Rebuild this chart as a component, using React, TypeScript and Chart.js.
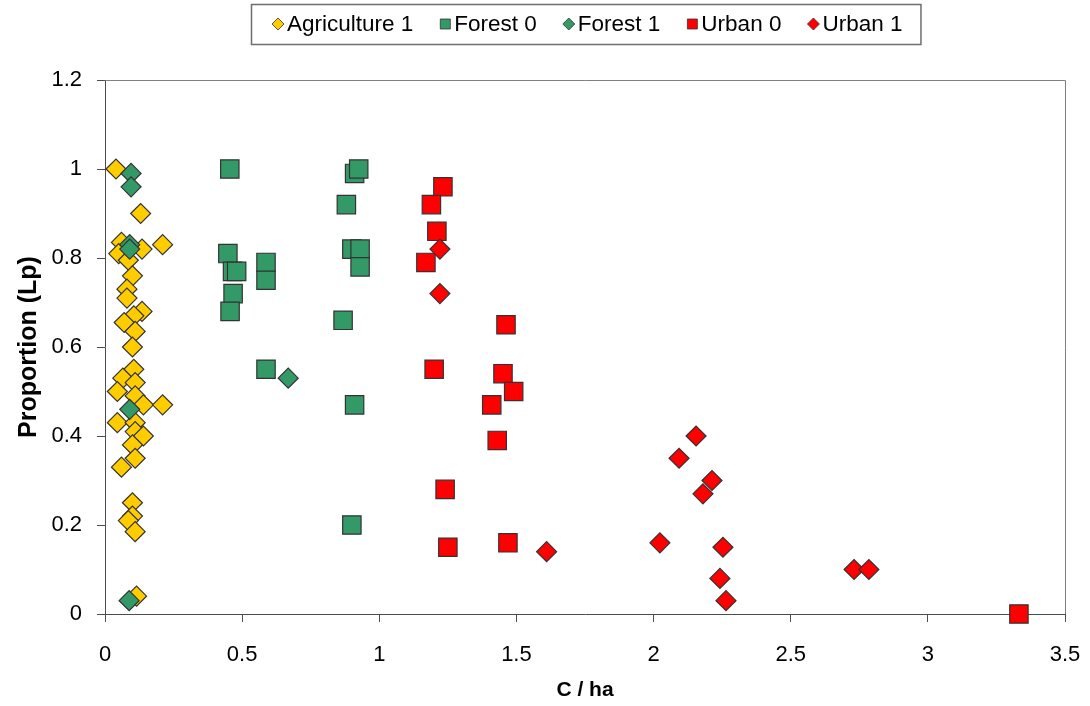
import React, { useEffect, useRef } from 'react';
import { Chart, registerables } from 'chart.js';

Chart.register(...registerables);

const FONT = '"Liberation Sans", Arial, Helvetica, sans-serif';

const seriesNames = ['Agriculture 1', 'Forest 0', 'Forest 1', 'Urban 0', 'Urban 1'];
const xTicks = [0, 0.5, 1, 1.5, 2, 2.5, 3, 3.5];
const yTicks = [0, 0.2, 0.4, 0.6, 0.8, 1, 1.2];

const agriculture1: number[][] = [
  [0.04, 1.0], [0.13, 0.9], [0.21, 0.83], [0.06, 0.835], [0.135, 0.82], [0.05, 0.81],
  [0.085, 0.795], [0.1, 0.76], [0.08, 0.73], [0.08, 0.71], [0.135, 0.68], [0.105, 0.67],
  [0.07, 0.655], [0.11, 0.635], [0.1, 0.6], [0.105, 0.55], [0.065, 0.53], [0.11, 0.52],
  [0.045, 0.5], [0.11, 0.49], [0.14, 0.47], [0.21, 0.47], [0.045, 0.43], [0.11, 0.43],
  [0.11, 0.41], [0.14, 0.4], [0.1, 0.38], [0.11, 0.35], [0.06, 0.33], [0.1, 0.25],
  [0.1, 0.22], [0.085, 0.21], [0.11, 0.185], [0.115, 0.04],
];

const forest0: number[][] = [
  [0.455, 1.0], [0.91, 0.99], [0.925, 1.0], [0.88, 0.92], [0.448, 0.81], [0.465, 0.77],
  [0.48, 0.77], [0.587, 0.79], [0.587, 0.75], [0.467, 0.72], [0.456, 0.68], [0.9, 0.82],
  [0.93, 0.82], [0.93, 0.78], [0.868, 0.66], [0.587, 0.55], [0.91, 0.47], [0.9, 0.2],
];

const forest1: number[][] = [
  [0.095, 0.99], [0.095, 0.96], [0.09, 0.83], [0.09, 0.82], [0.09, 0.46], [0.088, 0.03],
  [0.668, 0.53],
];

const urban0: number[][] = [
  [1.232, 0.96], [1.19, 0.92], [1.21, 0.86], [1.17, 0.79], [1.462, 0.65], [1.2, 0.55],
  [1.451, 0.54], [1.49, 0.5], [1.41, 0.47], [1.43, 0.39], [1.24, 0.28], [1.25, 0.15],
  [1.469, 0.16], [3.332, 0.0],
];

const urban1: number[][] = [
  [1.221, 0.82], [1.221, 0.72], [1.61, 0.14], [2.155, 0.4], [2.093, 0.35], [2.213, 0.3],
  [2.18, 0.27], [2.023, 0.16], [2.253, 0.15], [2.242, 0.08], [2.264, 0.03], [2.731, 0.1],
  [2.785, 0.1],
];

const seriesData = [agriculture1, forest0, forest1, urban0, urban1];
const seriesColors = ['#FFCC00', '#339966', '#339966', '#FF0000', '#FF0000'];
const seriesShapes = ['rectRot', 'rect', 'rectRot', 'rect', 'rectRot'];
const drawOrder = [5, 4, 3, 2, 1];

const MARKER_BORDER = '#333333';
const AXIS_COLOR = '#4d4d4d';

const legendPlugin = {
  id: 'boxLegend',
  afterDraw(chart: any) {
    const ctx: CanvasRenderingContext2D = chart.ctx;
    ctx.save();
    ctx.font = `22.5px ${FONT}`;
    const dsets = chart.data.datasets;
    const widths = dsets.map((d: any) => ctx.measureText(d.label).width);
    const padL = 27, m2t = 11, t2m = 30, padR = 16;
    let total = padL + padR + t2m * (dsets.length - 1);
    widths.forEach((w: number) => { total += m2t + w; });
    const cx = 586;
    const left = Math.round(cx - total / 2);
    const top = 4, h = 40;
    ctx.fillStyle = '#ffffff';
    ctx.fillRect(left, top, total, h);
    ctx.strokeStyle = '#6e6e6e';
    ctx.lineWidth = 1.5;
    ctx.strokeRect(left + 0.5, top + 0.5, total, h);
    const cy = top + h / 2;
    let x = left + padL;
    dsets.forEach((d: any, i: number) => {
      ctx.fillStyle = d.backgroundColor;
      ctx.strokeStyle = MARKER_BORDER;
      ctx.lineWidth = 0.8;
      ctx.beginPath();
      if (d.pointStyle === 'rect') {
        ctx.rect(x - 5, cy - 5, 10, 10);
      } else {
        ctx.moveTo(x, cy - 6);
        ctx.lineTo(x + 6, cy);
        ctx.lineTo(x, cy + 6);
        ctx.lineTo(x - 6, cy);
        ctx.closePath();
      }
      ctx.fill();
      ctx.stroke();
      ctx.fillStyle = '#000';
      ctx.textBaseline = 'middle';
      ctx.textAlign = 'left';
      ctx.fillText(d.label, x + m2t - 2, cy + 1);
      x += m2t + widths[i] + t2m;
    });
    ctx.restore();
  },
};

const plotBorderPlugin = {
  id: 'plotBorder',
  beforeDatasetsDraw(chart: any) {
    const { ctx, chartArea } = chart;
    ctx.save();
    ctx.strokeStyle = '#808080';
    ctx.lineWidth = 1;
    ctx.beginPath();
    ctx.moveTo(chartArea.left, chartArea.top + 0.5);
    ctx.lineTo(chartArea.right + 0.5, chartArea.top + 0.5);
    ctx.lineTo(chartArea.right + 0.5, chartArea.bottom);
    ctx.stroke();
    ctx.restore();
  },
};

export default function App() {
  const canvasRef = useRef<HTMLCanvasElement | null>(null);

  useEffect(() => {
    if (!canvasRef.current) return;
    const datasets = seriesNames.map((name, i) => ({
      label: name,
      data: seriesData[i].map(([x, y]) => ({ x, y })),
      backgroundColor: seriesColors[i],
      borderColor: MARKER_BORDER,
      borderWidth: 1.2,
      pointStyle: seriesShapes[i],
      pointRadius: seriesShapes[i] === 'rect' ? 13 : 10,
      pointHoverRadius: seriesShapes[i] === 'rect' ? 13 : 10,
      order: drawOrder[i],
      clip: false as any,
    }));

    const chart = new Chart(canvasRef.current, {
      type: 'scatter',
      data: { datasets: datasets as any },
      options: {
        animation: false,
        responsive: false,
        maintainAspectRatio: false,
        layout: { padding: { left: 0, right: 25, top: 80, bottom: 0 } },
        plugins: {
          legend: { display: false },
          tooltip: { enabled: false },
        },
        scales: {
          x: {
            type: 'linear',
            min: 0,
            max: 3.5,
            afterBuildTicks: (s: any) => { s.ticks = xTicks.map((v) => ({ value: v })); },
            afterFit: (s: any) => {
              s.height = 92;
              s.paddingLeft = 0;
              s.paddingRight = 0;
            },
            ticks: {
              font: { size: 22, family: FONT },
              color: '#000',
              padding: 20,
              maxRotation: 0,
              minRotation: 0,
              callback: (v: any) => String(v),
            },
            grid: { drawOnChartArea: false, drawTicks: true, tickLength: 8, color: AXIS_COLOR },
            border: { display: true, color: AXIS_COLOR, width: 1 },
            title: {
              display: true,
              text: 'C / ha',
              font: { size: 21, weight: 'bold', family: FONT },
              color: '#000',
              padding: { top: 0, bottom: 3 },
            },
          },
          y: {
            type: 'linear',
            min: 0,
            max: 1.2,
            afterBuildTicks: (s: any) => { s.ticks = yTicks.map((v) => ({ value: v })); },
            afterFit: (s: any) => {
              s.width = 105;
              s.paddingTop = 0;
              s.paddingBottom = 0;
            },
            ticks: {
              font: { size: 22, family: FONT },
              color: '#000',
              padding: 15,
              callback: (v: any) => String(v),
            },
            grid: { drawOnChartArea: false, drawTicks: true, tickLength: 8, color: AXIS_COLOR },
            border: { display: true, color: AXIS_COLOR, width: 1 },
            title: {
              display: true,
              text: 'Proportion (Lp)',
              font: { size: 25, weight: 'bold', family: FONT },
              color: '#000',
              padding: { top: 14, bottom: 0 },
            },
          },
        },
      } as any,
      plugins: [plotBorderPlugin, legendPlugin],
    });

    return () => chart.destroy();
  }, []);

  return (
    <div style={{ position: 'fixed', left: 0, top: 0, width: 1090, height: 706, background: '#fff' }}>
      <canvas ref={canvasRef} width={1090} height={706} style={{ display: 'block' }} />
    </div>
  );
}
